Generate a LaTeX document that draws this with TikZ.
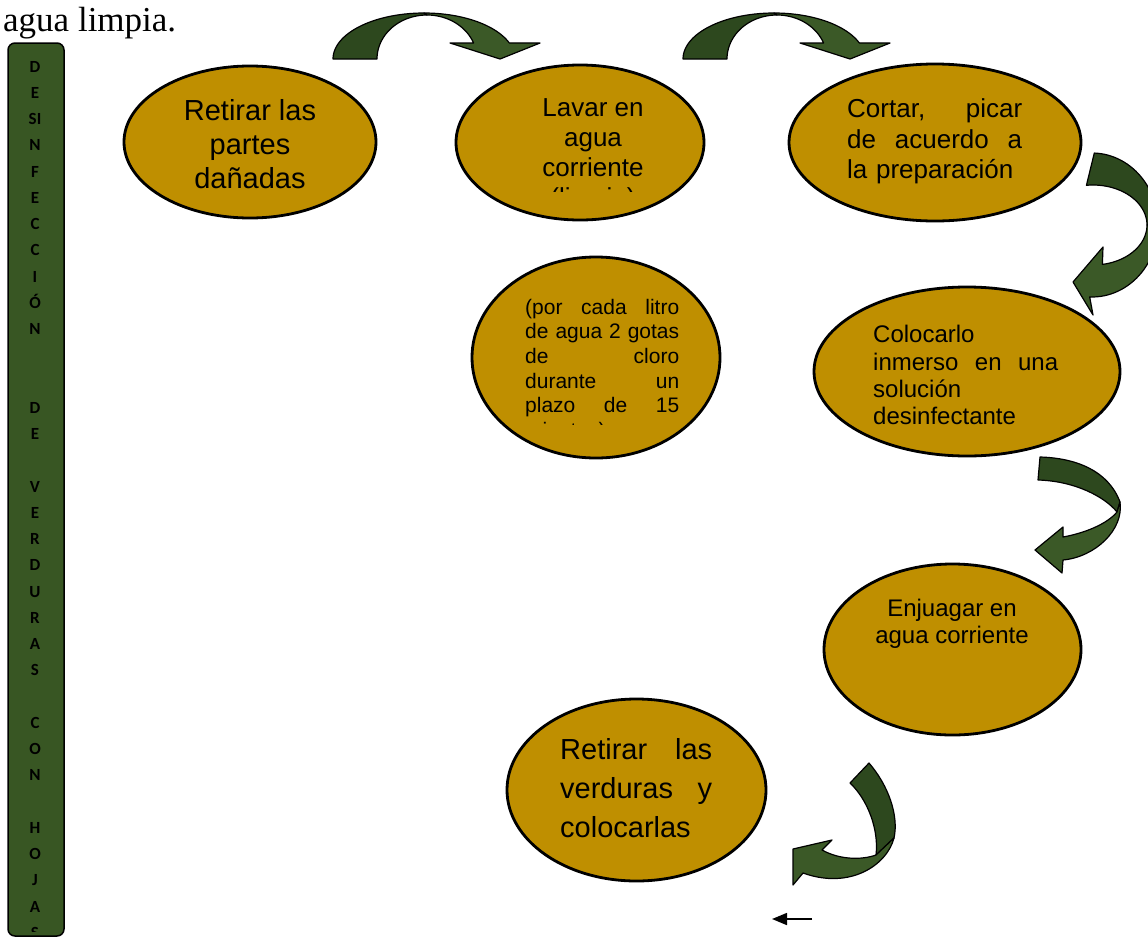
\documentclass[tikz,border=0pt]{standalone}
\usepackage{fontspec}
\setmainfont{Liberation Serif}
\newfontfamily\arialfont{Liberation Sans}
\newfontfamily\barfont{Carlito Bold}
\usetikzlibrary{shapes.geometric,arrows.meta}
\definecolor{gold}{RGB}{191,143,0}
\definecolor{bargreen}{RGB}{56,86,35}
\definecolor{arrowdark}{RGB}{45,72,30}
\definecolor{arrowlight}{RGB}{59,89,39}
% a line of text spread over the given width (words separated by \hfill)
\newcommand\spreadline[2]{\leavevmode\hbox to #1{#2}}
\begin{document}
\begin{tikzpicture}[x=1pt,y=-1pt,
  stage/.style={ellipse, draw=black, line width=2.8pt, fill=gold, inner sep=0pt},
  txt/.style={inner sep=0pt, text=black},
  barletter/.style={inner sep=0pt, anchor=base, font=\barfont\fontsize{17}{17}\selectfont},
  blockarrow/.style={draw=black, line width=1.2pt, line join=round},
  toparrow/.pic={
    % back half of the curved band
    \filldraw[blockarrow, fill=arrowdark]
      plot[domain=180:270, samples=30] ({424+91*cos(\x)},{59+46*sin(\x)})
      -- plot[domain=270:180, samples=30] ({427+50*cos(\x)},{59+44*sin(\x)}) -- cycle;
    % front half with the head
    \filldraw[blockarrow, fill=arrowlight]
      plot[domain=270:339.6, samples=30] ({424+91*cos(\x)},{59+46*sin(\x)})
      -- (540,43) -- (500,59) -- (450,43)
      -- plot[domain=338.7:270, samples=30] ({427+50*cos(\x)},{59+44*sin(\x)}) -- cycle;
  }]
\useasboundingbox (0,0) rectangle (1148,937);

% heading line
\node[txt, anchor=base west, font=\fontsize{35}{40}\selectfont] (heading) at (3,31) {agua limpia.};

% vertical title bar
\draw[fill=bargreen, draw=black, line width=1.5pt, rounded corners=7pt] (8,43) rectangle (64,936);
\begin{scope}
  \clip (8,43) rectangle (64,931.5);
  \foreach \i/\letter in {0/D,1/E,2/SI,3/N,4/F,5/E,6/C,7/C,8/I,9/Ó,10/N,
                     13/D,14/E,
                     16/V,17/E,18/R,19/D,20/U,21/R,22/A,23/S,
                     25/C,26/O,27/N,
                     29/H,30/O,31/J,32/A,33/S}
    \node[barletter] (bar\i) at (35,{72+26.25*\i}) {\letter};
\end{scope}

% stages
\node[stage, minimum width=252pt, minimum height=152pt] (s1) at (250,142) {};
\node[stage, minimum width=248pt, minimum height=155pt] (s2) at (580,142.5) {};
\node[stage, minimum width=292pt, minimum height=157pt] (s3) at (935,142.5) {};
\node[stage, minimum width=248pt, minimum height=201pt] (s4) at (596,357.5) {};
\node[stage, minimum width=306pt, minimum height=169pt] (s5) at (967,371.5) {};
\node[stage, minimum width=257pt, minimum height=171pt] (s6) at (952.5,649.5) {};
\node[stage, minimum width=259pt, minimum height=182pt] (s7) at (636.5,790) {};

% stage texts
\node[txt, anchor=north, align=center, font=\arialfont\fontsize{29}{34}\selectfont] (t1) at (250,99) {Retirar las\\partes\\dañadas};
\begin{scope}
  \clip (480,60) rectangle (700,191);
  \node[txt, anchor=north, align=center, font=\arialfont\fontsize{26}{30}\selectfont] (t2) at (593,98) {Lavar en\\agua\\corriente\\(limpia)};
\end{scope}
\node[txt, anchor=north west, align=left, text width=175pt, font=\arialfont\fontsize{26}{30.5}\selectfont] (t3) at (847,98.6)
  {\spreadline{175pt}{Cortar,\hfill picar}\\\spreadline{175pt}{de\hfill acuerdo\hfill a}\\la preparación};
\begin{scope}
  \clip (500,260) rectangle (700,424);
  \node[txt, anchor=north west, align=left, text width=154pt, font=\arialfont\fontsize{21}{24.6}\selectfont] (t4) at (525,298.9)
    {\spreadline{154pt}{(por\hfill cada\hfill litro}\\\spreadline{154pt}{de\hfill agua\hfill 2\hfill gotas}\\\spreadline{154pt}{de\hfill cloro}\\\spreadline{154pt}{durante\hfill un}\\\spreadline{154pt}{plazo\hfill de\hfill 15}\\minutos)};
\end{scope}
\node[txt, anchor=north west, align=left, text width=185pt, font=\arialfont\fontsize{24}{27.1}\selectfont] (t5) at (873,325.4)
  {Colocarlo\\\spreadline{185pt}{inmerso\hfill en\hfill una}\\solución\\desinfectante};
\node[txt, anchor=north, align=center, font=\arialfont\fontsize{24}{27}\selectfont] (t6) at (952,598.7) {Enjuagar en\\agua corriente};
\node[txt, anchor=north west, align=left, text width=152pt, font=\arialfont\fontsize{29}{39}\selectfont] (t7) at (560,738)
  {\spreadline{152pt}{Retirar\hfill las}\\\spreadline{152pt}{verduras\hfill y}\\colocarlas};

% curved block arrows along the top
\pic at (0,0) {toparrow};
\pic at (350,0) {toparrow};

% curved arrow on the right, from the third to the fifth stage
\filldraw[blockarrow, fill=arrowdark]
  plot[domain=-88:0, samples=30] ({1092+66*cos(\x)},{225+72*sin(\x)})
  -- plot[domain=0:-97, samples=30] ({1093+54*cos(\x)},{225+40*sin(\x)}) -- cycle;
\filldraw[blockarrow, fill=arrowlight]
  plot[domain=0:92, samples=30] ({1092+66*cos(\x)},{225+72*sin(\x)})
  -- (1093,315) -- (1073,282) -- (1103,247)
  -- plot[domain=80:0, samples=30] ({1093+54*cos(\x)},{225+40*sin(\x)}) -- cycle;

% curved arrow from the fifth to the sixth stage
\filldraw[blockarrow, fill=arrowdark]
  (1040,457) .. controls (1075,458) and (1108,470) .. (1120,502)
  -- (1117,512) .. controls (1105,497) and (1075,481) .. (1038,480) -- cycle;
\filldraw[blockarrow, fill=arrowlight]
  (1120,502) .. controls (1124,530) and (1095,557) .. (1063,560)
  -- (1062,573) -- (1035,550) -- (1063,527) -- (1063,537)
  .. controls (1085,533) and (1107,524) .. (1117,512) -- cycle;

% curved arrow from the sixth to the last stage
\filldraw[blockarrow, fill=arrowdark]
  (869,763) .. controls (888,785) and (899,815) .. (894,838)
  -- (876,855) .. controls (879,830) and (868,800) .. (850,783) -- cycle;
\filldraw[blockarrow, fill=arrowlight]
  (894,838) .. controls (887,865) and (850,890) .. (803,873)
  -- (793,885) -- (793,849) -- (832,840) -- (822,850)
  .. controls (840,860) and (862,860) .. (876,855) -- cycle;

% small arrow at the foot
\coordinate (footstart) at (812,919);
\coordinate (footend) at (772,919);
\draw[line width=1.6pt, -{Triangle[length=15pt,width=12pt]}] (footstart) -- (footend);
\end{tikzpicture}
\end{document}
